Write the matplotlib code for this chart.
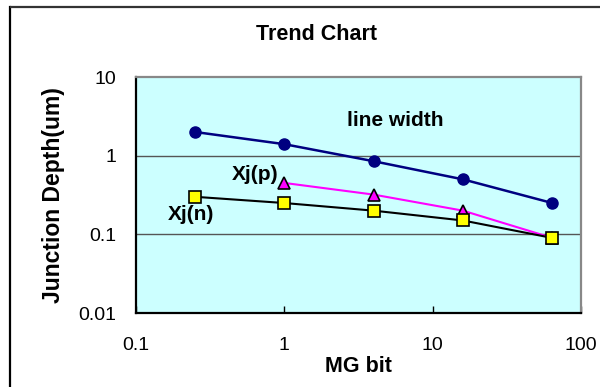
import matplotlib
matplotlib.use("Agg")
import matplotlib.pyplot as plt
from matplotlib.lines import Line2D

plt.rcParams['font.family'] = ['Liberation Sans', 'DejaVu Sans']

mg_bit = [0.25, 1, 4, 16, 64]
line_width = [2.0, 1.4, 0.85, 0.5, 0.25]
xj_p_bits = [1, 4, 16, 64]
xj_p = [0.45, 0.32, 0.2, 0.09]
xj_n = [0.3, 0.25, 0.2, 0.15, 0.09]

x_ticks = [0.1, 1, 10, 100]
x_labels = ['0.1', '1', '10', '100']
y_ticks = [0.01, 0.1, 1, 10]
y_labels = ['0.01', '0.1', '1', '10']

W, H = 601, 387
fig = plt.figure(figsize=(W / 100, H / 100), dpi=100)
fig.patch.set_facecolor('white')
fig.patch.set_edgecolor('white')
fig.patch.set_linewidth(0)

# outer chart frame: only left and top edges are visible in the original
fx, fy = 10.5 / W, 1 - 6.5 / H
fig.add_artist(Line2D([fx, fx], [0, fy], transform=fig.transFigure,
                      color='black', linewidth=1.6, solid_capstyle='projecting'))
fig.add_artist(Line2D([fx, 0.999], [fy, fy], transform=fig.transFigure,
                      color='#333333', linewidth=1.6, solid_capstyle='butt'))

ax = fig.add_axes([136 / W, 1 - 313 / H, (581 - 136) / W, (313 - 77) / H])
ax.set_facecolor('#CCFFFF')
ax.set_xscale('log')
ax.set_yscale('log')
ax.set_xlim(0.1, 100)
ax.set_ylim(0.01, 10)

for yv in [0.1, 1]:
    ax.axhline(yv, color='#555555', linewidth=1.0, zorder=1)

ax.plot(mg_bit, line_width, color='#000080', linewidth=1.8, marker='o',
        markersize=8, markerfacecolor='#000080', markeredgecolor='#000080', zorder=3)
ax.plot(xj_p_bits, xj_p, color='#FF00FF', linewidth=1.5, marker='^',
        markersize=9, markerfacecolor='#FF00FF', markeredgecolor='black',
        markeredgewidth=1.2, zorder=3)
ax.plot(mg_bit, xj_n, color='black', linewidth=1.5, marker='s',
        markersize=8, markerfacecolor='#FFFF00', markeredgecolor='black',
        markeredgewidth=1.2, zorder=4)

ax.text(5.6, 2.84, 'line width', fontsize=15, fontweight='bold', ha='center', va='center')
ax.text(0.64, 0.58, 'Xj(p)', fontsize=15, fontweight='bold', ha='center', va='center')
ax.text(0.236, 0.18, 'Xj(n)', fontsize=15, fontweight='bold', ha='center', va='center')

ax.set_xticks(x_ticks, x_labels)
ax.set_yticks(y_ticks, y_labels)
ax.minorticks_off()
ax.tick_params(axis='x', direction='in', length=5, width=1, pad=17, labelsize=14)
ax.tick_params(axis='y', length=0, pad=14, labelsize=14)

ax.spines['left'].set_color('black')
ax.spines['bottom'].set_color('black')
ax.spines['top'].set_color('#888888')
ax.spines['right'].set_color('#888888')
for s in ax.spines.values():
    s.set_linewidth(1.6)

ax.set_xlabel('MG bit', fontsize=15.5, fontweight='bold', labelpad=2)
ax.set_ylabel('Junction Depth(um)', fontsize=16.5, fontweight='bold', labelpad=10)

fig.text(316 / W, 1 - 35 / H, 'Trend Chart', fontsize=15.5, fontweight='bold',
         ha='center', va='center')

fig.savefig('out.png', dpi=100)
